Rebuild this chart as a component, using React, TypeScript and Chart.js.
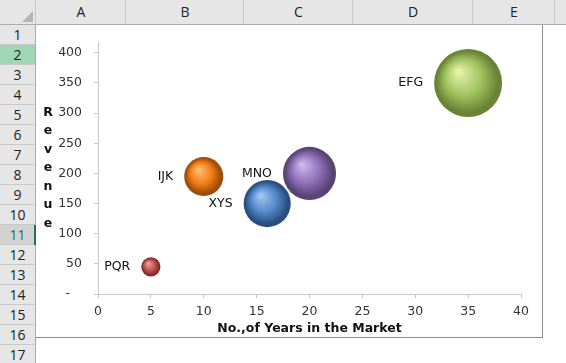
import React, { useEffect, useRef } from 'react';
import { Chart, registerables } from 'chart.js';

Chart.register(...registerables);

// ---- data ----
const companies = ['PQR', 'IJK', 'XYS', 'MNO', 'EFG'];
const yearsInMarket = [5, 10, 16, 20, 35];
const revenue = [45, 195, 150, 200, 350];
const bubbleSizes = [8, 33, 48, 61, 100];
const xTitle = 'No.,of Years in the Market';
const yTitle = 'Revenue';
const columnLetters = ['A', 'B', 'C', 'D', 'E'];
const rowNumbers = [1, 2, 3, 4, 5, 6, 7, 8, 9, 10, 11, 12, 13, 14, 15, 16, 17];

// ---- styles ----
const MAX_BUBBLE_R = 34;
const palette = [
  ['#f0a8a6', '#c4534f', '#7e2e2b'],
  ['#ffc27a', '#f27e18', '#9e4c0a'],
  ['#a4ccf6', '#5287c8', '#2a4e7e'],
  ['#d2bdf0', '#8d6fb6', '#594373'],
  ['#e8f8ae', '#a0c05e', '#6a8436'],
];
const FONT = '"DejaVu Sans", Verdana, sans-serif';
const colEdges = [36, 126, 244, 353, 473, 555, 600];

const bubbleRadius = (i: number) => {
  const maxSize = Math.max(...bubbleSizes);
  return MAX_BUBBLE_R * Math.sqrt(bubbleSizes[i] / maxSize);
};

const zeroPadding = (s: any) => {
  s.paddingTop = 0;
  s.paddingBottom = 0;
  s.paddingLeft = 0;
  s.paddingRight = 0;
};

const labelPlugin = {
  id: 'bubbleLabels',
  afterDatasetsDraw(chart: any) {
    const ctx = chart.ctx;
    const meta = chart.getDatasetMeta(0);
    ctx.save();
    ctx.font = '12.5px ' + FONT;
    ctx.fillStyle = '#111';
    ctx.textAlign = 'right';
    ctx.textBaseline = 'middle';
    meta.data.forEach((el: any, i: number) => {
      const r = el.options.radius;
      ctx.fillText(companies[i], el.x - r - 11, el.y);
    });
    ctx.font = 'bold 12.5px ' + FONT;
    ctx.textAlign = 'center';
    const letters = yTitle.split('');
    const lh = 18.5;
    const cy = (chart.chartArea.top + chart.chartArea.bottom) / 2;
    const start = cy - ((letters.length - 1) * lh) / 2;
    letters.forEach((ch: string, i: number) => ctx.fillText(ch, 12, start + i * lh));
    ctx.restore();
  },
};

function BubbleChart() {
  const ref = useRef<HTMLCanvasElement>(null);
  useEffect(() => {
    if (!ref.current) return;
    const chart = new Chart(ref.current, {
      type: 'bubble',
      data: {
        datasets: [
          {
            label: 'Revenue',
            data: yearsInMarket.map((x, i) => ({ x, y: revenue[i], r: bubbleRadius(i) })),
            borderWidth: 0,
            clip: false,
            backgroundColor: (c: any) => {
              const i = c.dataIndex;
              const chart = c.chart;
              const xs = chart.scales && chart.scales.x;
              const ys = chart.scales && chart.scales.y;
              if (i == null || !xs || !ys || c.type !== 'data') return palette[0][1];
              const cx = xs.getPixelForValue(yearsInMarket[i]);
              const cy = ys.getPixelForValue(revenue[i]);
              const r = bubbleRadius(i);
              if (!isFinite(cx) || !isFinite(cy)) return palette[i][1];
              const g = chart.ctx.createRadialGradient(cx - 0.3 * r, cy - 0.36 * r, 0, cx, cy, r);
              g.addColorStop(0, palette[i][0]);
              g.addColorStop(0.55, palette[i][1]);
              g.addColorStop(0.9, palette[i][2]);
              g.addColorStop(1, palette[i][2]);
              return g;
            },
          } as any,
        ],
      },
      options: {
        animation: false,
        responsive: false,
        events: [],
        layout: { autoPadding: false, padding: { left: 0, top: 17, right: 21, bottom: 0 } },
        plugins: { legend: { display: false }, tooltip: { enabled: false } },
        scales: {
          x: {
            type: 'linear',
            min: 0,
            max: 40,
            afterFit: (s: any) => {
              s.height = 43;
              zeroPadding(s);
            },
            ticks: {
              stepSize: 5,
              includeBounds: false,
              padding: 6,
              color: '#333',
              font: { family: FONT, size: 12.5 },
            },
            grid: { display: true, drawOnChartArea: false, drawTicks: true, tickLength: 4, color: '#c8c8c8' },
            border: { display: true, color: '#c8c8c8' },
            title: {
              display: true,
              text: xTitle,
              color: '#111',
              font: { family: FONT, size: 12.5, weight: 'bold' },
              padding: { top: 0, bottom: 1 },
            },
          },
          y: {
            type: 'linear',
            min: 0,
            max: 418,
            afterFit: (s: any) => {
              s.width = 62;
              zeroPadding(s);
            },
            ticks: {
              stepSize: 50,
              includeBounds: false,
              padding: 12,
              color: '#333',
              font: { family: FONT, size: 12.5 },
              callback: (v: any) => (Number(v) === 0 ? '-   ' : String(v)),
            },
            grid: { display: true, drawOnChartArea: false, drawTicks: true, tickLength: 4, color: '#c8c8c8' },
            border: { display: true, color: '#c8c8c8' },
          },
        },
      } as any,
      plugins: [labelPlugin],
    });
    return () => chart.destroy();
  }, []);
  return <canvas ref={ref} width={506} height={312} style={{ display: 'block', width: 506, height: 312 }} />;
}

export default function App() {
  const headerBg = '#e6e6e6';
  const sheetFont = '"Open Sans", "Noto Sans", sans-serif';
  return (
    <div style={{ position: 'absolute', left: 0, top: 0, width: 566, height: 363, overflow: 'hidden', background: '#fff', fontFamily: sheetFont }}>
      {/* column header */}
      <div style={{ position: 'absolute', left: 0, top: 0, width: 566, height: 24, background: headerBg, borderBottom: '1px solid #ababab' }} />
      <div style={{ position: 'absolute', left: 22, top: 11, width: 11, height: 11, background: '#b4b4b4', clipPath: 'polygon(100% 0, 100% 100%, 0 100%)' }} />
      {colEdges.slice(0, -1).map((x, i) => (
        <div key={'cl' + i} style={{ position: 'absolute', left: x - 1, top: 0, width: 1, height: 24, background: '#c6c6c6' }} />
      ))}
      {columnLetters.map((c, i) => (
        <div key={'c' + c} style={{ position: 'absolute', left: colEdges[i], top: 0, width: colEdges[i + 1] - colEdges[i], height: 24, lineHeight: '24px', textAlign: 'center', fontSize: 14, color: '#222' }}>
          {c}
        </div>
      ))}
      {/* row header */}
      <div style={{ position: 'absolute', left: 0, top: 25, width: 35, height: 340, background: headerBg, borderRight: '1px solid #ababab' }} />
      {rowNumbers.map((n) => {
        const top = 24 + 20 * (n - 1);
        const sel = n === 2;
        const active = n === 11;
        return (
          <div
            key={'r' + n}
            style={{
              position: 'absolute',
              left: 0,
              top: top + 1,
              width: 35,
              height: 19,
              lineHeight: '19px',
              textAlign: 'center',
              fontSize: 14,
              color: active ? '#217346' : '#222',
              background: sel ? '#a0d6b4' : active ? '#d2d2d2' : headerBg,
              borderBottom: '1px solid #c8c8c8',
            }}
          >
            {n}
          </div>
        );
      })}
      <div style={{ position: 'absolute', left: 34, top: 225, width: 2, height: 20, background: '#217346' }} />
      {/* chart object */}
      <div style={{ position: 'absolute', left: 36, top: 25, width: 506, height: 312 }}>
        <BubbleChart />
      </div>
      <div style={{ position: 'absolute', left: 542, top: 25, width: 1, height: 313, background: '#8c8c8c' }} />
      <div style={{ position: 'absolute', left: 36, top: 337, width: 507, height: 1, background: '#8c8c8c' }} />
    </div>
  );
}
